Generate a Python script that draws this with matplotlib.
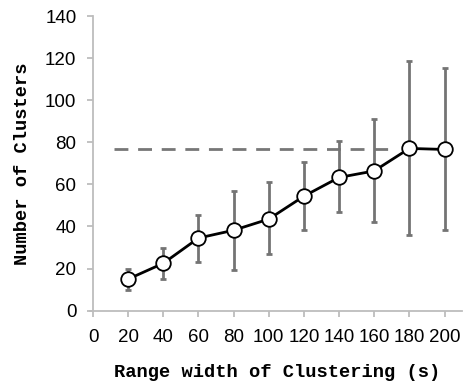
import matplotlib
matplotlib.use("Agg")
import matplotlib.pyplot as plt

widths = [20, 40, 60, 80, 100, 120, 140, 160, 180, 200]
clusters = [15, 22.5, 34.5, 38.2, 43.5, 54.4, 63.3, 66.4, 77.1, 76.6]
err_low = [9.8, 15.0, 23.3, 19.3, 26.9, 38.2, 46.8, 42.2, 35.9, 38.2]
err_high = [19.6, 29.9, 45.6, 56.8, 61.2, 70.7, 80.4, 91.3, 118.7, 115.2]
ref_level = 76.6
ref_span = [12, 172]
xticks = [0, 20, 40, 60, 80, 100, 120, 140, 160, 180, 200]
yticks = [0, 20, 40, 60, 80, 100, 120, 140]

fig = plt.figure(figsize=(4.63, 3.83), dpi=100)
ax = fig.add_axes([0.201, 0.189, 0.797, 0.769])

lo = [c - l for c, l in zip(clusters, err_low)]
hi = [h - c for c, h in zip(clusters, err_high)]
ax.errorbar(widths, clusters, yerr=[lo, hi], fmt='none', ecolor='#747474',
            elinewidth=2, capsize=2.5, capthick=2, zorder=2)
ax.plot(ref_span, [ref_level, ref_level], color='#777777', lw=2,
        dashes=(5, 3.5), zorder=1)
ax.plot(widths, clusters, color='black', lw=2, marker='o', markersize=10.5,
        markerfacecolor='white', markeredgecolor='black', markeredgewidth=1.3,
        zorder=3)

ax.set_xlim(0, 210)
ax.set_ylim(0, 140)
ax.set_xticks(xticks)
ax.set_yticks(yticks)
for s in ['top', 'right']:
    ax.spines[s].set_visible(False)
for s in ['left', 'bottom']:
    ax.spines[s].set_color('#bdbdbd')
    ax.spines[s].set_linewidth(1.3)
ax.spines['bottom'].set_bounds(-2, 210)
ax.tick_params(axis='both', colors='#bdbdbd', length=4, width=1.3,
               labelcolor='black', labelsize=13.5)
ax.tick_params(axis='y', pad=8)
ax.tick_params(axis='x', pad=9)
for lab in ax.get_xticklabels() + ax.get_yticklabels():
    lab.set_family('Liberation Sans')
ax.set_xlabel('Range width of Clustering (s)', family='Liberation Mono',
              fontsize=13.5, fontweight='bold', labelpad=13)
ax.set_ylabel('Number of Clusters', family='Liberation Mono',
              fontsize=13.5, fontweight='bold', labelpad=10)
fig.savefig('out.png', dpi=100)
